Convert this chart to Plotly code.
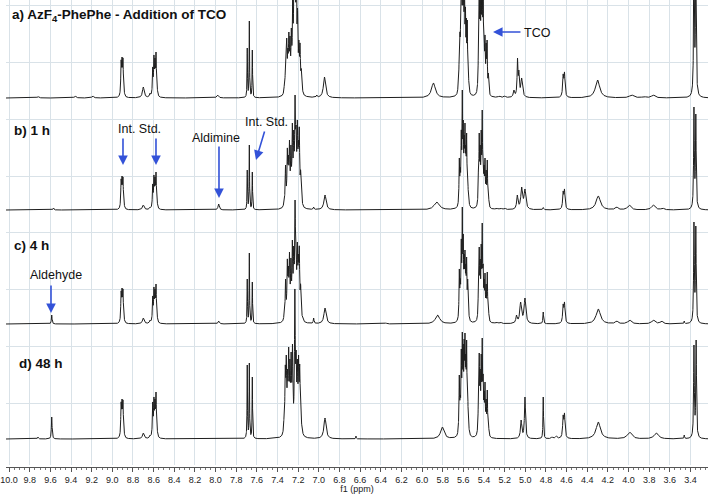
import numpy as np
import plotly.graph_objects as go

# ---------------- data ----------------
# peak lists: (shift ppm, apparent height above baseline, line width ppm)
peaks_a = [
    (9.72, 1.5, 0.02), (9.36, 2, 0.02), (9.19, 2, 0.02),
    (8.915, 38, 0.008), (8.906, 41, 0.008), (8.897, 40, 0.008), (8.888, 12, 0.008),
    (8.70, 11, 0.02), (8.635, 5, 0.012),
    (8.609, 31, 0.008), (8.597, 43, 0.008), (8.587, 40, 0.008), (8.577, 46, 0.008), (8.567, 15, 0.008),
    (7.98, 3, 0.02),
    (7.693, 50, 0.005), (7.673, 77, 0.005), (7.644, 48, 0.005),
    (7.335, 12, 0.009), (7.322, 40, 0.009), (7.311, 60, 0.009), (7.300, 50, 0.009), (7.290, 66, 0.009),
    (7.279, 62, 0.009), (7.266, 70, 0.009), (7.253, 100, 0.009), (7.241, 125, 0.009), (7.230, 150, 0.009),
    (7.218, 140, 0.009), (7.206, 90, 0.009), (7.193, 58, 0.009), (7.182, 55, 0.009), (7.170, 30, 0.009),
    (7.157, 8, 0.009),
    (7.02, 3, 0.01), (6.945, 21, 0.025),
    (5.89, 15, 0.045),
    (5.650, 15, 0.007), (5.640, 45, 0.007), (5.633, 66, 0.007), (5.625, 100, 0.007), (5.616, 130, 0.007),
    (5.607, 140, 0.007), (5.598, 130, 0.007), (5.589, 120, 0.007), (5.580, 95, 0.007), (5.571, 80, 0.007),
    (5.562, 78, 0.007), (5.552, 35, 0.007), (5.542, 10, 0.007),
    (5.462, 15, 0.007), (5.454, 50, 0.007), (5.446, 110, 0.007), (5.437, 120, 0.007), (5.427, 130, 0.007),
    (5.417, 140, 0.007), (5.408, 100, 0.007), (5.399, 70, 0.007), (5.390, 63, 0.007), (5.379, 55, 0.007),
    (5.370, 58, 0.007), (5.358, 25, 0.007),
    (5.25, 2, 0.02), (5.20, 2, 0.02),
    (5.11, 8, 0.015), (5.075, 40, 0.01), (5.062, 28, 0.01), (5.035, 20, 0.02),
    (4.633, 24, 0.012), (4.620, 26, 0.012),
    (4.30, 18, 0.05),
    (3.97, 3, 0.05), (3.85, 1.5, 0.04), (3.76, 3, 0.04),
    (3.366, 160, 0.008), (3.348, 160, 0.008),
]

peaks_b = [
    (9.57, 2, 0.01),
    (8.915, 31, 0.008), (8.906, 34, 0.008), (8.897, 33, 0.008), (8.888, 10, 0.008),
    (8.70, 5, 0.02), (8.635, 3, 0.012),
    (8.609, 26, 0.008), (8.597, 35, 0.008), (8.587, 33, 0.008), (8.577, 38, 0.008), (8.567, 12, 0.008),
    (7.97, 6, 0.015),
    (7.693, 40, 0.005), (7.673, 65, 0.005), (7.644, 38, 0.005),
    (7.335, 12, 0.009), (7.322, 45, 0.009), (7.305, 62, 0.009), (7.295, 55, 0.009), (7.284, 70, 0.009),
    (7.270, 65, 0.009), (7.256, 87, 0.009), (7.243, 80, 0.009), (7.230, 115, 0.009), (7.220, 85, 0.009),
    (7.208, 90, 0.009), (7.198, 70, 0.009), (7.189, 83, 0.009), (7.176, 40, 0.009), (7.160, 8, 0.009),
    (7.05, 3, 0.008), (6.94, 15, 0.025),
    (5.858, 8, 0.06),
    (5.648, 10, 0.007), (5.639, 52, 0.007), (5.630, 45, 0.007), (5.620, 80, 0.007), (5.610, 120, 0.007),
    (5.601, 90, 0.007), (5.592, 75, 0.007), (5.584, 87, 0.007), (5.576, 65, 0.007), (5.568, 77, 0.007),
    (5.558, 45, 0.007), (5.548, 15, 0.007),
    (5.462, 10, 0.007), (5.454, 40, 0.007), (5.446, 77, 0.007), (5.437, 65, 0.007), (5.427, 80, 0.007),
    (5.417, 100, 0.007), (5.408, 60, 0.007), (5.399, 45, 0.007), (5.390, 52, 0.007), (5.379, 40, 0.007),
    (5.368, 50, 0.007), (5.357, 20, 0.007),
    (5.28, 2, 0.02), (5.24, 2, 0.02), (5.20, 2, 0.02),
    (5.077, 15, 0.015), (5.035, 23, 0.02), (5.003, 21, 0.02),
    (4.826, 2.5, 0.01),
    (4.633, 19, 0.012), (4.620, 21, 0.012),
    (4.293, 14, 0.05),
    (4.115, 3, 0.03), (3.993, 5, 0.04), (3.76, 5, 0.04), (3.67, 2, 0.03),
    (3.366, 103, 0.008), (3.348, 96, 0.008),
]

peaks_c = [
    (9.587, 9, 0.008),
    (8.915, 33, 0.008), (8.906, 36, 0.008), (8.897, 35, 0.008), (8.888, 10, 0.008),
    (8.70, 6, 0.02), (8.635, 4, 0.012),
    (8.609, 28, 0.008), (8.597, 37, 0.008), (8.587, 35, 0.008), (8.577, 40, 0.008), (8.567, 12, 0.008),
    (7.97, 3, 0.015),
    (7.693, 45, 0.005), (7.673, 71, 0.005), (7.644, 42, 0.005),
    (7.335, 12, 0.009), (7.322, 45, 0.009), (7.305, 65, 0.009), (7.295, 58, 0.009), (7.284, 72, 0.009),
    (7.270, 66, 0.009), (7.256, 84, 0.009), (7.243, 78, 0.009), (7.230, 124, 0.009), (7.220, 80, 0.009),
    (7.208, 82, 0.009), (7.198, 70, 0.009), (7.189, 78, 0.009), (7.176, 40, 0.009), (7.160, 8, 0.009),
    (7.05, 6, 0.008), (6.94, 16, 0.025),
    (6.35, 1, 0.02),
    (5.85, 9, 0.05),
    (5.648, 10, 0.007), (5.639, 55, 0.007), (5.630, 48, 0.007), (5.620, 85, 0.007), (5.610, 117, 0.007),
    (5.601, 90, 0.007), (5.592, 70, 0.007), (5.584, 74, 0.007), (5.576, 60, 0.007), (5.568, 67, 0.007),
    (5.558, 45, 0.007), (5.548, 15, 0.007),
    (5.462, 10, 0.007), (5.454, 40, 0.007), (5.446, 77, 0.007), (5.437, 65, 0.007), (5.427, 80, 0.007),
    (5.417, 101, 0.007), (5.408, 60, 0.007), (5.399, 45, 0.007), (5.390, 51, 0.007), (5.379, 40, 0.007),
    (5.368, 52, 0.007), (5.357, 20, 0.007),
    (5.28, 2, 0.02), (5.24, 2, 0.02),
    (5.085, 9, 0.015), (5.045, 22, 0.02), (5.003, 26, 0.02),
    (4.826, 12, 0.008),
    (4.633, 20, 0.012), (4.620, 22, 0.012),
    (4.293, 15, 0.05),
    (4.115, 3, 0.03), (3.99, 4, 0.04), (3.76, 4, 0.04), (3.68, 3, 0.03), (3.46, 3, 0.006),
    (3.366, 102, 0.008), (3.348, 98, 0.008),
]

peaks_d = [
    (9.72, 2, 0.01), (9.587, 22, 0.008),
    (8.915, 37, 0.008), (8.906, 40, 0.008), (8.897, 39, 0.008), (8.888, 12, 0.008),
    (8.70, 6, 0.02), (8.635, 4, 0.012),
    (8.609, 37, 0.008), (8.597, 42, 0.008), (8.587, 40, 0.008), (8.577, 47, 0.008), (8.567, 14, 0.008),
    (7.693, 74, 0.005), (7.673, 76, 0.005), (7.644, 62, 0.005),
    (7.338, 20, 0.009), (7.325, 74, 0.009), (7.315, 84, 0.009), (7.303, 70, 0.009), (7.292, 92, 0.009),
    (7.280, 80, 0.009), (7.268, 87, 0.009), (7.255, 95, 0.009), (7.232, 150, 0.009), (7.220, 89, 0.009),
    (7.208, 80, 0.009), (7.196, 84, 0.009), (7.185, 75, 0.009), (7.175, 51, 0.009), (7.160, 10, 0.009),
    (6.94, 21, 0.025), (6.64, 3, 0.006),
    (5.804, 12, 0.04),
    (5.648, 15, 0.007), (5.639, 64, 0.007), (5.630, 49, 0.007), (5.620, 90, 0.007), (5.610, 107, 0.007),
    (5.601, 95, 0.007), (5.592, 100, 0.007), (5.584, 106, 0.007), (5.576, 85, 0.007), (5.568, 99, 0.007),
    (5.558, 55, 0.007), (5.548, 18, 0.007),
    (5.462, 12, 0.007), (5.454, 45, 0.007), (5.446, 86, 0.007), (5.437, 70, 0.007), (5.427, 85, 0.007),
    (5.417, 101, 0.007), (5.408, 65, 0.007), (5.399, 48, 0.007), (5.390, 57, 0.007), (5.379, 40, 0.007),
    (5.368, 49, 0.007), (5.357, 20, 0.007),
    (5.04, 19, 0.015), (5.003, 42, 0.012),
    (4.826, 42, 0.006),
    (4.74, 2, 0.02), (4.70, 3, 0.02),
    (4.633, 24, 0.012), (4.620, 26, 0.012),
    (4.293, 17, 0.05),
    (3.99, 7, 0.05), (3.73, 6, 0.05), (3.46, 4, 0.006),
    (3.366, 94, 0.008), (3.345, 99, 0.008),
]

spectra = [peaks_a, peaks_b, peaks_c, peaks_d]
baselines = [367, 255, 141, 26]          # vertical offset of each trace (plot units)
panel_labels = ["a) AzF<sub>4</sub>-PhePhe - Addition of TCO", "b) 1 h", "c) 4 h", "d) 48 h"]
ppm_min, ppm_max = 3.23, 10.03

# ---------------- build spectra from the peak lists ----------------
def lorentz(x, x0, w):
    return 1.0 / (1.0 + ((x - x0) / (w / 2.0)) ** 2)

grid = np.arange(ppm_min, ppm_max, 0.0007)

fig = go.Figure()
for peaks, base in zip(spectra, baselines):
    pos = np.array([p[0] for p in peaks])
    tgt = np.array([p[1] for p in peaks], dtype=float)
    wid = np.array([p[2] for p in peaks])
    A = lorentz(pos[:, None], pos[None, :], wid[None, :])
    h = np.clip(np.linalg.solve(A, tgt), 0, None)
    x = np.unique(np.concatenate([grid, pos]))
    y = base + (h[None, :] * lorentz(x[:, None], pos[None, :], wid[None, :])).sum(axis=1)
    fig.add_trace(go.Scatter(x=x[::-1], y=y[::-1], mode="lines",
                             line=dict(color="#1e1e1e", width=1), hoverinfo="skip",
                             showlegend=False))

# ---------------- annotations ----------------
def X(px):   # pixel column -> ppm
    return ppm_max - (px - 6) / 103.24

def Y(py):   # pixel row -> plot units
    return 465 - py

blue = "#3352d8"
lab_font = dict(family="Liberation Sans, Arial", size=13.5, color="#111111")
txt_font = dict(family="Liberation Sans, Arial", size=12.5, color="#111111")
label_pos = [(10, 15), (12, 130), (12, 245), (17, 363)]
ann = []
for t, (px, py) in zip(panel_labels, label_pos):
    ann.append(dict(x=X(px), y=Y(py), xref="x", yref="y", text="<b>" + t + "</b>",
                    showarrow=False, xanchor="left", yanchor="middle", font=lab_font))

texts = [("Int. Std.", 140, 129), ("Aldimine", 216, 137.5), ("Int. Std.", 267, 122),
         ("TCO", 538, 33), ("Aldehyde", 56, 275)]
for t, px, py in texts:
    ann.append(dict(x=X(px), y=Y(py), xref="x", yref="y", text=t, showarrow=False,
                    xanchor="center", yanchor="middle", font=txt_font))

arrows = [(123, 165, 0, -28), (156, 165, 0, -28), (219, 198, 0, -53),
          (256, 160, 9, -30), (493, 32, 29, 0), (51, 313, 0, -29)]
for px, py, ax, ay in arrows:
    ann.append(dict(x=X(px), y=Y(py), xref="x", yref="y", text="", showarrow=True,
                    ax=ax, ay=ay, arrowhead=2, arrowsize=1.2, arrowwidth=1.6,
                    arrowcolor=blue, standoff=0, startstandoff=0))

grid_rows = [62 + i * 56.75 for i in range(8)]

fig.update_layout(
    width=710, height=494,
    margin=dict(l=6, r=2, t=0, b=27),
    paper_bgcolor="white", plot_bgcolor="white",
    annotations=ann,
    xaxis=dict(range=[ppm_max, ppm_min], anchor="free", position=0,
               tick0=10.0, dtick=0.2, tickformat=".1f",
               showgrid=True, gridcolor="#d9e2e8", gridwidth=1,
               showline=True, linecolor="#555555", linewidth=1,
               ticks="outside", ticklen=4, tickcolor="#555555",
               minor=dict(dtick=0.05, ticks="outside", ticklen=2, tickcolor="#777777", showgrid=False),
               tickfont=dict(family="Liberation Sans, Arial", size=9, color="#222222"),
               title=dict(text="f1 (ppm)", standoff=1,
                          font=dict(family="Liberation Sans, Arial", size=9, color="#222222")),
               zeroline=False, automargin=False),
    yaxis=dict(range=[0, 465], domain=[2 / 467, 1], tickvals=grid_rows, showticklabels=False,
               showgrid=True, gridcolor="#d9e2e8", gridwidth=1, zeroline=False, showline=False,
               ticks=""),
)

fig.write_html("out.html", config={"displayModeBar": False, "staticPlot": True},
               post_script="document.body.style.margin='0';document.body.style.padding='0';"
                           "document.body.style.overflow='hidden';")
